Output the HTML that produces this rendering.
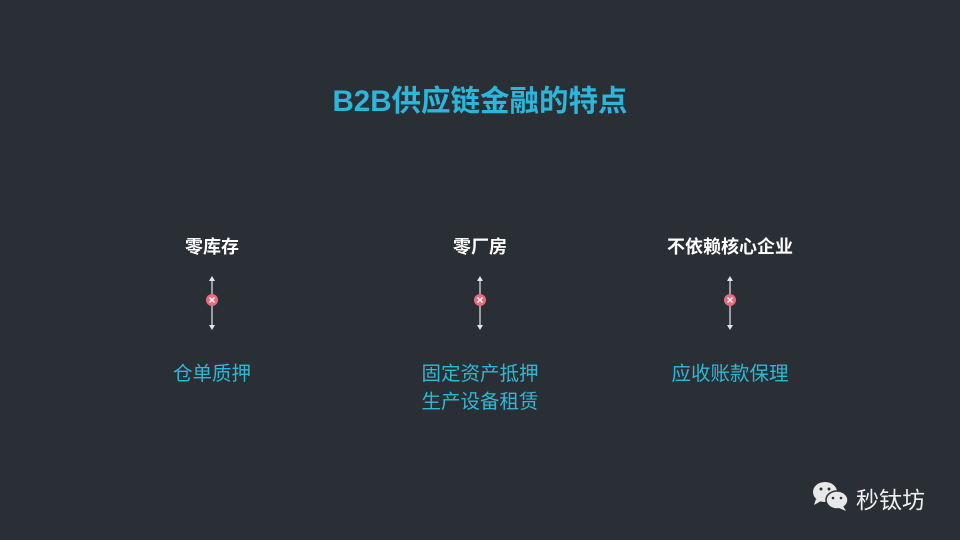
<!DOCTYPE html>
<html><head><meta charset="utf-8"><style>
body{margin:0;width:960px;height:540px;background:#2a2e35;overflow:hidden;position:relative;font-family:"Liberation Sans","Noto Sans CJK SC",sans-serif}
.t{position:absolute;white-space:nowrap;transform:translateX(-50%);text-align:center}
.h{color:#fff;font-size:18px;font-weight:bold}
.b{color:#2fb8d6;font-size:19.5px;line-height:28px}
</style></head><body>
<div class="t" style="left:480px;top:78px;color:#2bb7dc;font-size:29.5px;font-weight:bold">B2B供应链金融的特点</div>
<div class="t h" style="left:212px;top:233px">零库存</div>
<div class="t h" style="left:480px;top:233px">零厂房</div>
<div class="t h" style="left:730px;top:233px">不依赖核心企业</div>
<svg width="960" height="540" style="position:absolute;left:0;top:0">
<g id="a" stroke="#bfc3c8" stroke-width="1.5" fill="#e6e6e6">
<line x1="212" y1="280" x2="212" y2="326"/>
<path d="M209 281 L212 276 L215 281Z" stroke="none"/>
<path d="M209 325 L212 330 L215 325Z" stroke="none"/>
<circle cx="212" cy="300" r="6" fill="#e86a7c" stroke="none"/>
<path d="M209.5 297.5 L214.5 302.5 M214.5 297.5 L209.5 302.5" stroke="#fff" stroke-width="1.3"/>
</g>
<use href="#a" x="268"/>
<use href="#a" x="518"/>
</svg>
<div class="t b" style="left:212px;top:360px">仓单质押</div>
<div class="t b" style="left:480px;top:360px">固定资产抵押<br>生产设备租赁</div>
<div class="t b" style="left:730px;top:360px">应收账款保理</div>
<svg width="40" height="32" style="position:absolute;left:810px;top:480px">
<ellipse cx="15" cy="12" rx="12" ry="10" fill="#e8e8e8"/>
<path d="M6 19 L4 25 L11 21Z" fill="#e8e8e8"/>
<ellipse cx="27" cy="20" rx="11" ry="9" fill="#e8e8e8" stroke="#2a2e35" stroke-width="1.5"/>
<path d="M33 26 L36 31 L29 28Z" fill="#e8e8e8"/>
<circle cx="11" cy="9" r="1.5" fill="#2a2e35"/><circle cx="19" cy="9" r="1.5" fill="#2a2e35"/>
<circle cx="23" cy="18" r="1.3" fill="#2a2e35"/><circle cx="31" cy="18" r="1.3" fill="#2a2e35"/>
</svg>
<div style="position:absolute;left:856px;top:481px;color:#eee;font-size:23px;font-family:'Liberation Sans','Noto Sans CJK SC',sans-serif">秒钛坊</div>
</body></html>
